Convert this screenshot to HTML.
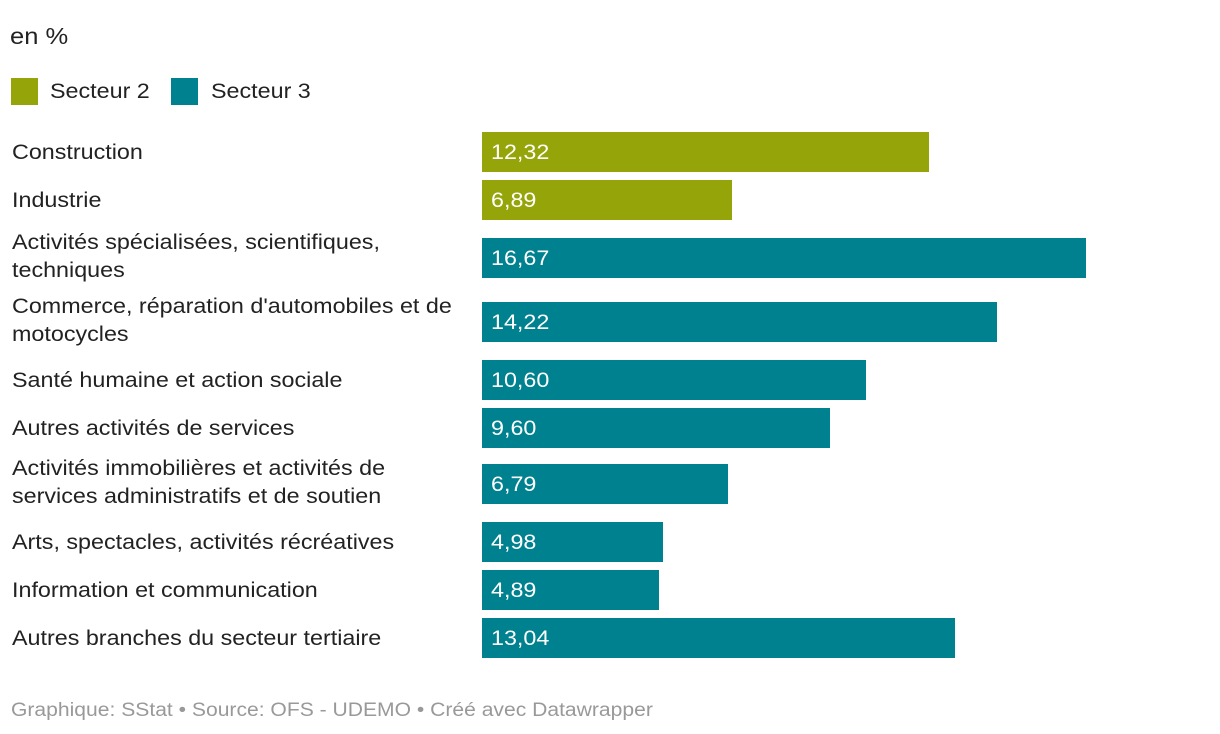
<!DOCTYPE html>
<html><head><meta charset="utf-8"><style>
body{margin:0;width:1220px;height:734px;background:#fff;font-family:"Liberation Sans",sans-serif;position:relative;overflow:hidden;color:#222}
.t,.lab,.val{transform:scaleX(1.11);transform-origin:0 50%}
.t{position:absolute;white-space:nowrap}
.lab{position:absolute;left:12px;font-size:21px;line-height:28px;color:#222;white-space:nowrap}
.bar{position:absolute;left:482px;height:40px}
.val{position:absolute;font-size:21px;color:#fff;line-height:40px}
</style></head><body>
<div class="t" style="left:10px;top:23px;font-size:23px">en %</div>
<div>
<div style="position:absolute;left:11px;top:78px;width:27px;height:27px;background:#95a509"></div>
<div class="t" style="left:50px;top:80px;font-size:21px">Secteur 2</div></div>
<div>
<div style="position:absolute;left:171px;top:78px;width:27px;height:27px;background:#00818f"></div>
<div class="t" style="left:211px;top:80px;font-size:21px">Secteur 3</div></div>
<div id="chart"></div>
<div class="t" style="left:11px;top:700px;font-size:19px;color:#999">Graphique: SStat • Source: OFS - UDEMO • Créé avec Datawrapper</div>
<script>
const categories=["Construction","Industrie","Activités spécialisées, scientifiques,<br>techniques","Commerce, réparation d'automobiles et de<br>motocycles","Santé humaine et action sociale","Autres activités de services","Activités immobilières et activités de<br>services administratifs et de soutien","Arts, spectacles, activités récréatives","Information et communication","Autres branches du secteur tertiaire"];
const values=[12.32,6.89,16.67,14.22,10.60,9.60,6.79,4.98,4.89,13.04];
const sectors=[2,2,3,3,3,3,3,3,3,3];
const tops=[132,180,238,302,360,408,464,522,570,618];
const scale=v=>v*36.25;
const c=document.getElementById('chart');
categories.forEach((cat,i)=>{
  const two=cat.includes('<br>');
  const l=document.createElement('div');
  l.className='lab';
  
  
  l.innerHTML=cat;
  l.style.top=(two?tops[i]-9:tops[i]+7)+'px';
  c.appendChild(l);
  const b=document.createElement('div');
  b.className='bar';
  
  
  b.style.top=tops[i]+'px';
  b.style.width=scale(values[i])+'px';
  b.style.background=sectors[i]===2?'#95a509':'#00818f';
  c.appendChild(b);
  const v=document.createElement('div');
  v.className='val';
  
  
  v.style.left='491px';v.style.top=(tops[i]+1)+'px';
  v.textContent=values[i].toFixed(2).replace('.',',');
  c.appendChild(v);
});
</script>
</body></html>
